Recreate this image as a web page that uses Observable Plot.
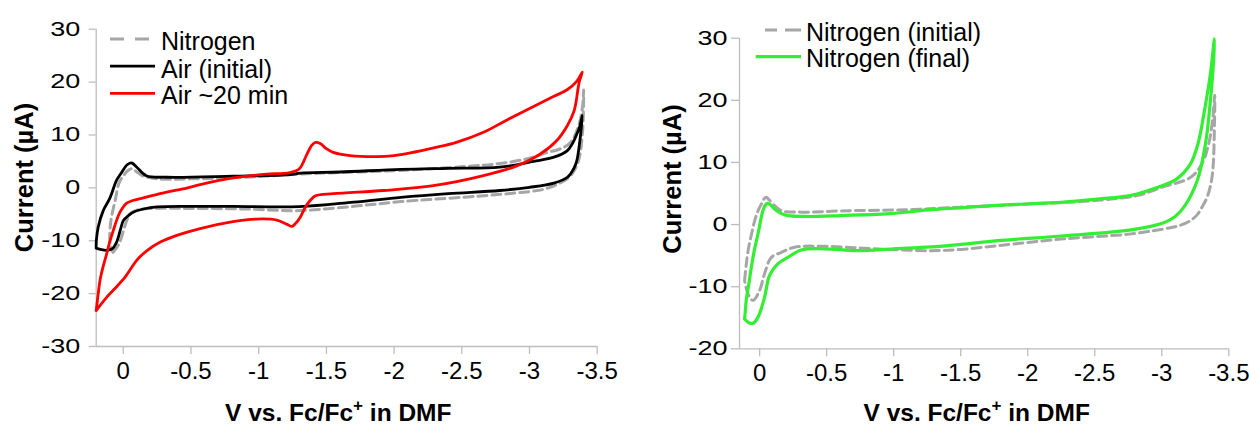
<!DOCTYPE html>
<html><head><meta charset="utf-8">
<script src="https://cdn.jsdelivr.net/npm/d3@7"></script>
<script src="https://cdn.jsdelivr.net/npm/@observablehq/plot@0.6"></script>
<style>
body{margin:0;background:#fff;}
#wrap{position:relative;width:1249px;height:427px;overflow:hidden;font-family:"Liberation Sans",Arial,sans-serif;background:#fff;}
#left{position:absolute;left:0;top:0;}
#right{position:absolute;left:620px;top:0;}
#overlay{position:absolute;left:0;top:0;pointer-events:none;}
</style></head><body>
<div id="wrap"><div id="left"></div><div id="right"></div>
<svg id="overlay" width="1249" height="427" font-family="Liberation Sans, Arial, sans-serif"></svg></div>
<script>
// ---------- data (V vs Fc/Fc+, current in µA) ----------
const leftXTicks = [0, -0.5, -1, -1.5, -2, -2.5, -3, -3.5];
const leftYTicks = [-30, -20, -10, 0, 10, 20, 30];
const rightXTicks = [0, -0.5, -1, -1.5, -2, -2.5, -3, -3.5];
const rightYTicks = [-20, -10, 0, 10, 20, 30];

const leftLabels = ["Nitrogen", "Air (initial)", "Air ~20 min"];
const rightLabels = ["Nitrogen (initial)", "Nitrogen (final)"];

const leftNitrogen = [
  [0.075,-12.2],[0.03,-10.5],[-0.025,-6.2],[-0.05,-4.9],[-0.1,-4.2],[-0.2,-3.9],[-0.5,-3.9],[-0.9,-4.0],
  [-1.3,-4.3],[-1.7,-3.5],[-2.05,-2.6],[-2.5,-1.8],[-2.8,-1.2],[-3.0,-0.7],[-3.1,-0.3],[-3.2,0.6],
  [-3.3,2.2],[-3.36,5],[-3.39,10],[-3.4,18.5],
  [-3.39,15],[-3.36,11.5],[-3.3,8.5],[-3.22,7.3],[-3.13,6.7],[-3.0,5.6],[-2.78,4.6],[-2.5,4.0],
  [-2.05,3.3],[-1.6,2.9],[-1.3,2.6],[-0.9,2.0],[-0.5,1.7],[-0.25,1.7],[-0.15,2.2],[-0.1,3.0],
  [-0.07,3.6],[-0.04,3.4],[-0.01,2.6],[0.03,1.0],[0.06,-2.4],[0.09,-6],[0.1,-9.5],[0.09,-11.5],[0.075,-12.2]
];
const leftAirInitial = [
  [0.2,-11.4],[0.16,-11.7],[0.12,-11.8],[0.08,-11.5],[0.05,-10.3],[0.02,-7.8],[0.0,-6.2],[-0.04,-5.2],
  [-0.074,-4.6],[-0.15,-4.0],[-0.25,-3.6],[-0.5,-3.5],[-0.81,-3.5],[-1.3,-3.55],[-1.7,-2.7],[-2.05,-1.8],
  [-2.4,-1.1],[-2.78,-0.5],[-3.0,0.1],[-3.18,0.9],[-3.28,2.0],[-3.33,3.8],[-3.35,5.2],[-3.37,8.5],[-3.39,13.7],
  [-3.37,11.5],[-3.35,10.2],[-3.32,8.5],[-3.28,7.05],[-3.18,5.8],[-3.03,5.0],[-2.78,3.9],[-2.4,3.7],
  [-2.05,3.5],[-1.6,3.0],[-1.31,2.8],[-1.23,2.5],[-0.81,2.2],[-0.32,2.0],[-0.17,2.3],[-0.10,3.9],
  [-0.062,4.7],[-0.03,4.4],[-0.013,3.9],[0.02,2.6],[0.05,1.4],[0.1,-2.0],[0.148,-4.3],[0.185,-7.4],
  [0.199,-10],[0.2,-11.4]
];
const leftAir20 = [
  [0.2,-23.2],[0.185,-20],[0.172,-17.5],[0.15,-15],[0.123,-12.5],[0.1,-10.2],[0.074,-8.1],[0.05,-6.2],
  [0.024,-4.6],[-0.025,-2.9],[-0.07,-2.4],[-0.148,-1.9],[-0.32,-0.8],[-0.44,-0.2],[-0.567,0.6],[-0.69,1.3],
  [-0.81,1.9],[-0.94,2.3],[-1.06,2.6],[-1.23,2.9],[-1.3,3.6],[-1.355,6.3],[-1.39,8.0],[-1.42,8.6],
  [-1.454,8.4],[-1.5,7.4],[-1.55,6.7],[-1.675,6.1],[-1.87,5.9],[-2.0,6.1],[-2.12,6.6],[-2.3,7.6],
  [-2.46,8.6],[-2.66,10.5],[-2.83,12.8],[-3.03,15.4],[-3.18,17.3],[-3.28,18.6],[-3.35,20.2],[-3.39,21.9],
  [-3.37,20.3],[-3.36,19.0],[-3.33,14.6],[-3.28,11.8],[-3.2,8.9],[-3.08,6.4],[-2.91,4.2],[-2.66,2.3],
  [-2.29,0.4],[-1.92,-0.5],[-1.55,-1.1],[-1.42,-1.5],[-1.38,-2.4],[-1.343,-3.7],[-1.306,-5.6],[-1.27,-6.8],
  [-1.245,-7.3],[-1.21,-6.9],[-1.134,-6.1],[-0.986,-5.9],[-0.81,-6.4],[-0.567,-7.7],[-0.395,-9.0],
  [-0.27,-10.3],[-0.173,-11.9],[-0.099,-13.7],[-0.037,-16.0],[-0.013,-16.9],[0.049,-18.7],[0.123,-20.7],[0.2,-23.2]
];
const rightNitrogenInitial = [
  [0.112,-9.0],[0.1,-6.5],[0.086,-4.2],[0.06,-1.5],[0.037,0.6],[0.01,2.3],[-0.013,3.3],[-0.035,4.2],
  [-0.05,4.4],[-0.07,4.0],[-0.1,3.3],[-0.16,2.25],[-0.31,2.0],[-0.61,2.2],[-1.1,2.4],[-1.5,2.8],
  [-2.0,3.3],[-2.52,3.9],[-2.82,4.7],[-3.015,6.1],[-3.215,7.6],[-3.3,9.8],[-3.35,13],[-3.38,17],[-3.395,20.8],
  [-3.392,15],[-3.385,10],[-3.37,7],[-3.34,4.5],[-3.3,2.8],[-3.265,1.6],[-3.215,0.65],[-3.14,-0.1],
  [-3.065,-0.5],[-2.77,-1.5],[-2.27,-2.3],[-1.775,-3.4],[-1.5,-4.0],[-1.28,-4.2],[-0.856,-3.9],
  [-0.484,-3.5],[-0.26,-3.65],[-0.16,-4.5],[-0.087,-5.3],[-0.037,-7.9],[0.0,-10.6],[0.049,-12.2],
  [0.086,-11.2],[0.112,-9.0]
];
const rightNitrogenFinal = [
  [0.112,-15.2],[0.105,-13.5],[0.1,-12.2],[0.08,-9.5],[0.062,-6.9],[0.04,-4.2],[0.012,-1.5],[-0.025,2.25],
  [-0.045,3.2],[-0.06,3.4],[-0.08,3.2],[-0.112,2.5],[-0.16,1.8],[-0.21,1.45],[-0.36,1.3],[-0.61,1.45],
  [-1.0,1.8],[-1.28,2.4],[-1.5,2.7],[-1.775,3.1],[-2.27,3.6],[-2.52,4.1],[-2.77,4.7],[-2.97,6.0],
  [-3.115,7.4],[-3.215,9.8],[-3.27,13],[-3.31,17.3],[-3.363,24.3],[-3.393,29.9],
  [-3.388,26.9],[-3.363,20.0],[-3.326,13.0],[-3.265,7.1],[-3.165,2.8],[-3.1,1.3],[-3.015,0.3],[-2.77,-0.85],
  [-2.27,-1.8],[-1.775,-2.6],[-1.5,-3.2],[-1.28,-3.6],[-1.0,-3.9],[-0.733,-4.2],[-0.484,-3.9],[-0.31,-4.1],
  [-0.21,-5.3],[-0.137,-6.3],[-0.074,-8.2],[-0.037,-11.7],[0.012,-14.9],[0.049,-15.9],[0.08,-15.8],[0.112,-15.2]
];

// ---------- styles ----------
const AXIS = "#bdbdbd";
const GRAY = "#a6a6a6", BLACK = "#000000", RED = "#ff0000", GREEN = "#33ee33";
const FONT = "Liberation Sans, Arial, sans-serif";

const toRows = pairs => pairs.map(([V, I]) => ({V, I}));

function panel(o) {
  const marks = [
    Plot.ruleX([o.xDomain[0]], {stroke: AXIS, strokeWidth: 1.3}),
    Plot.ruleY([o.yDomain[0]], {stroke: AXIS, strokeWidth: 1.3}),
    Plot.axisX({ticks: o.xTicks, tickSize: 8, tickPadding: o.xPad, stroke: AXIS, strokeWidth: 1.3, fill: "#000",
      fontSize: 24, tickFormat: d => String(d), label: null}),
    Plot.axisY({ticks: o.yTicks, tickSize: o.ySize, tickPadding: o.yPad, stroke: AXIS, strokeWidth: 1.3, fill: "#000",
      fontSize: 20, tickFormat: d => String(d), label: null}),
    ...o.series.map(s => Plot.line(toRows(s.data), {x: "V", y: "I", stroke: s.color, strokeWidth: s.width,
      strokeDasharray: s.dash, curve: "catmull-rom"}))
  ];
  const svg = Plot.plot({
    width: o.width, height: 427,
    marginLeft: o.ml, marginRight: o.mr, marginTop: o.mt, marginBottom: o.mb,
    x: {domain: o.xDomain}, y: {domain: o.yDomain},
    style: {fontFamily: FONT, background: "transparent", overflow: "visible"},
    marks
  });
  // y tick labels are horizontally stretched in the reference
  svg.querySelectorAll('g[aria-label="y-axis tick label"] text').forEach(t => {
    let tr = t.getAttribute("transform") || "";
    const x = t.getAttribute("x");
    if (x != null && !/em/.test(x)) { tr += ` translate(${x},0)`; t.removeAttribute("x"); }
    t.setAttribute("transform", tr + " scale(1.35,1)");
  });
  return svg;
}

document.getElementById("left").append(panel({
  width: 620, ml: 95.7, mr: 23.3, mt: 28.7, mb: 81,
  xDomain: [0.2, -3.5], yDomain: [-30, 30], xTicks: leftXTicks, yTicks: leftYTicks,
  xPad: 7, ySize: 7, yPad: 9,
  series: [
    {data: leftNitrogen, color: GRAY, width: 3, dash: "9,5"},
    {data: leftAirInitial, color: BLACK, width: 2.8},
    {data: leftAir20, color: RED, width: 2.8}
  ]
}));
document.getElementById("right").append(panel({
  width: 629, ml: 119, mr: 20.7, mt: 37.7, mb: 78.7,
  xDomain: [0.15, -3.5], yDomain: [-20, 30], xTicks: rightXTicks, yTicks: rightYTicks,
  xPad: 7, ySize: 8, yPad: 4,
  series: [
    {data: rightNitrogenInitial, color: GRAY, width: 3, dash: "9,5"},
    {data: rightNitrogenFinal, color: GREEN, width: 3.2}
  ]
}));

// ---------- legends and axis titles ----------
const ov = d3.select("#overlay");
function legend(x0, x1, textX, rows) {
  rows.forEach(r => {
    ov.append("line").attr("x1", x0).attr("x2", x1).attr("y1", r.ly).attr("y2", r.ly)
      .attr("stroke", r.color).attr("stroke-width", r.width).attr("stroke-dasharray", r.dash || null);
    ov.append("text").attr("x", textX).attr("y", r.by).attr("font-size", 25).attr("fill", "#000").text(r.label);
  });
}
legend(110, 155, 161, [
  {label: leftLabels[0], color: GRAY, width: 3, dash: "14,11", ly: 39, by: 50},
  {label: leftLabels[1], color: BLACK, width: 2.8, ly: 66.2, by: 77.5},
  {label: leftLabels[2], color: RED, width: 2.8, ly: 93.3, by: 104.3}
]);
legend(755.7, 801, 806, [
  {label: rightLabels[0], color: GRAY, width: 3, dash: "0,9.3,12,8,12", ly: 30, by: 40.7},
  {label: rightLabels[1], color: GREEN, width: 3.2, ly: 56.7, by: 66.7}
]);

function xTitle(cx) {
  const t = ov.append("text").attr("x", cx).attr("y", 421).attr("text-anchor", "middle")
    .attr("font-size", 24.5).attr("font-weight", "bold").attr("fill", "#000");
  t.append("tspan").text("V vs. Fc/Fc");
  t.append("tspan").attr("dy", -10).attr("font-size", 17).text("+");
  t.append("tspan").attr("dy", 10).text(" in DMF");
}
xTitle(338.3);
xTitle(976.7);
function yTitle(bx, cy) {
  ov.append("text").attr("transform", `translate(${bx},${cy}) rotate(-90)`).attr("text-anchor", "middle")
    .attr("font-size", 25.5).attr("font-weight", "bold").attr("fill", "#000").text("Current (µA)");
}
yTitle(33, 177.5);
yTitle(681, 179);
</script>
</body></html>
